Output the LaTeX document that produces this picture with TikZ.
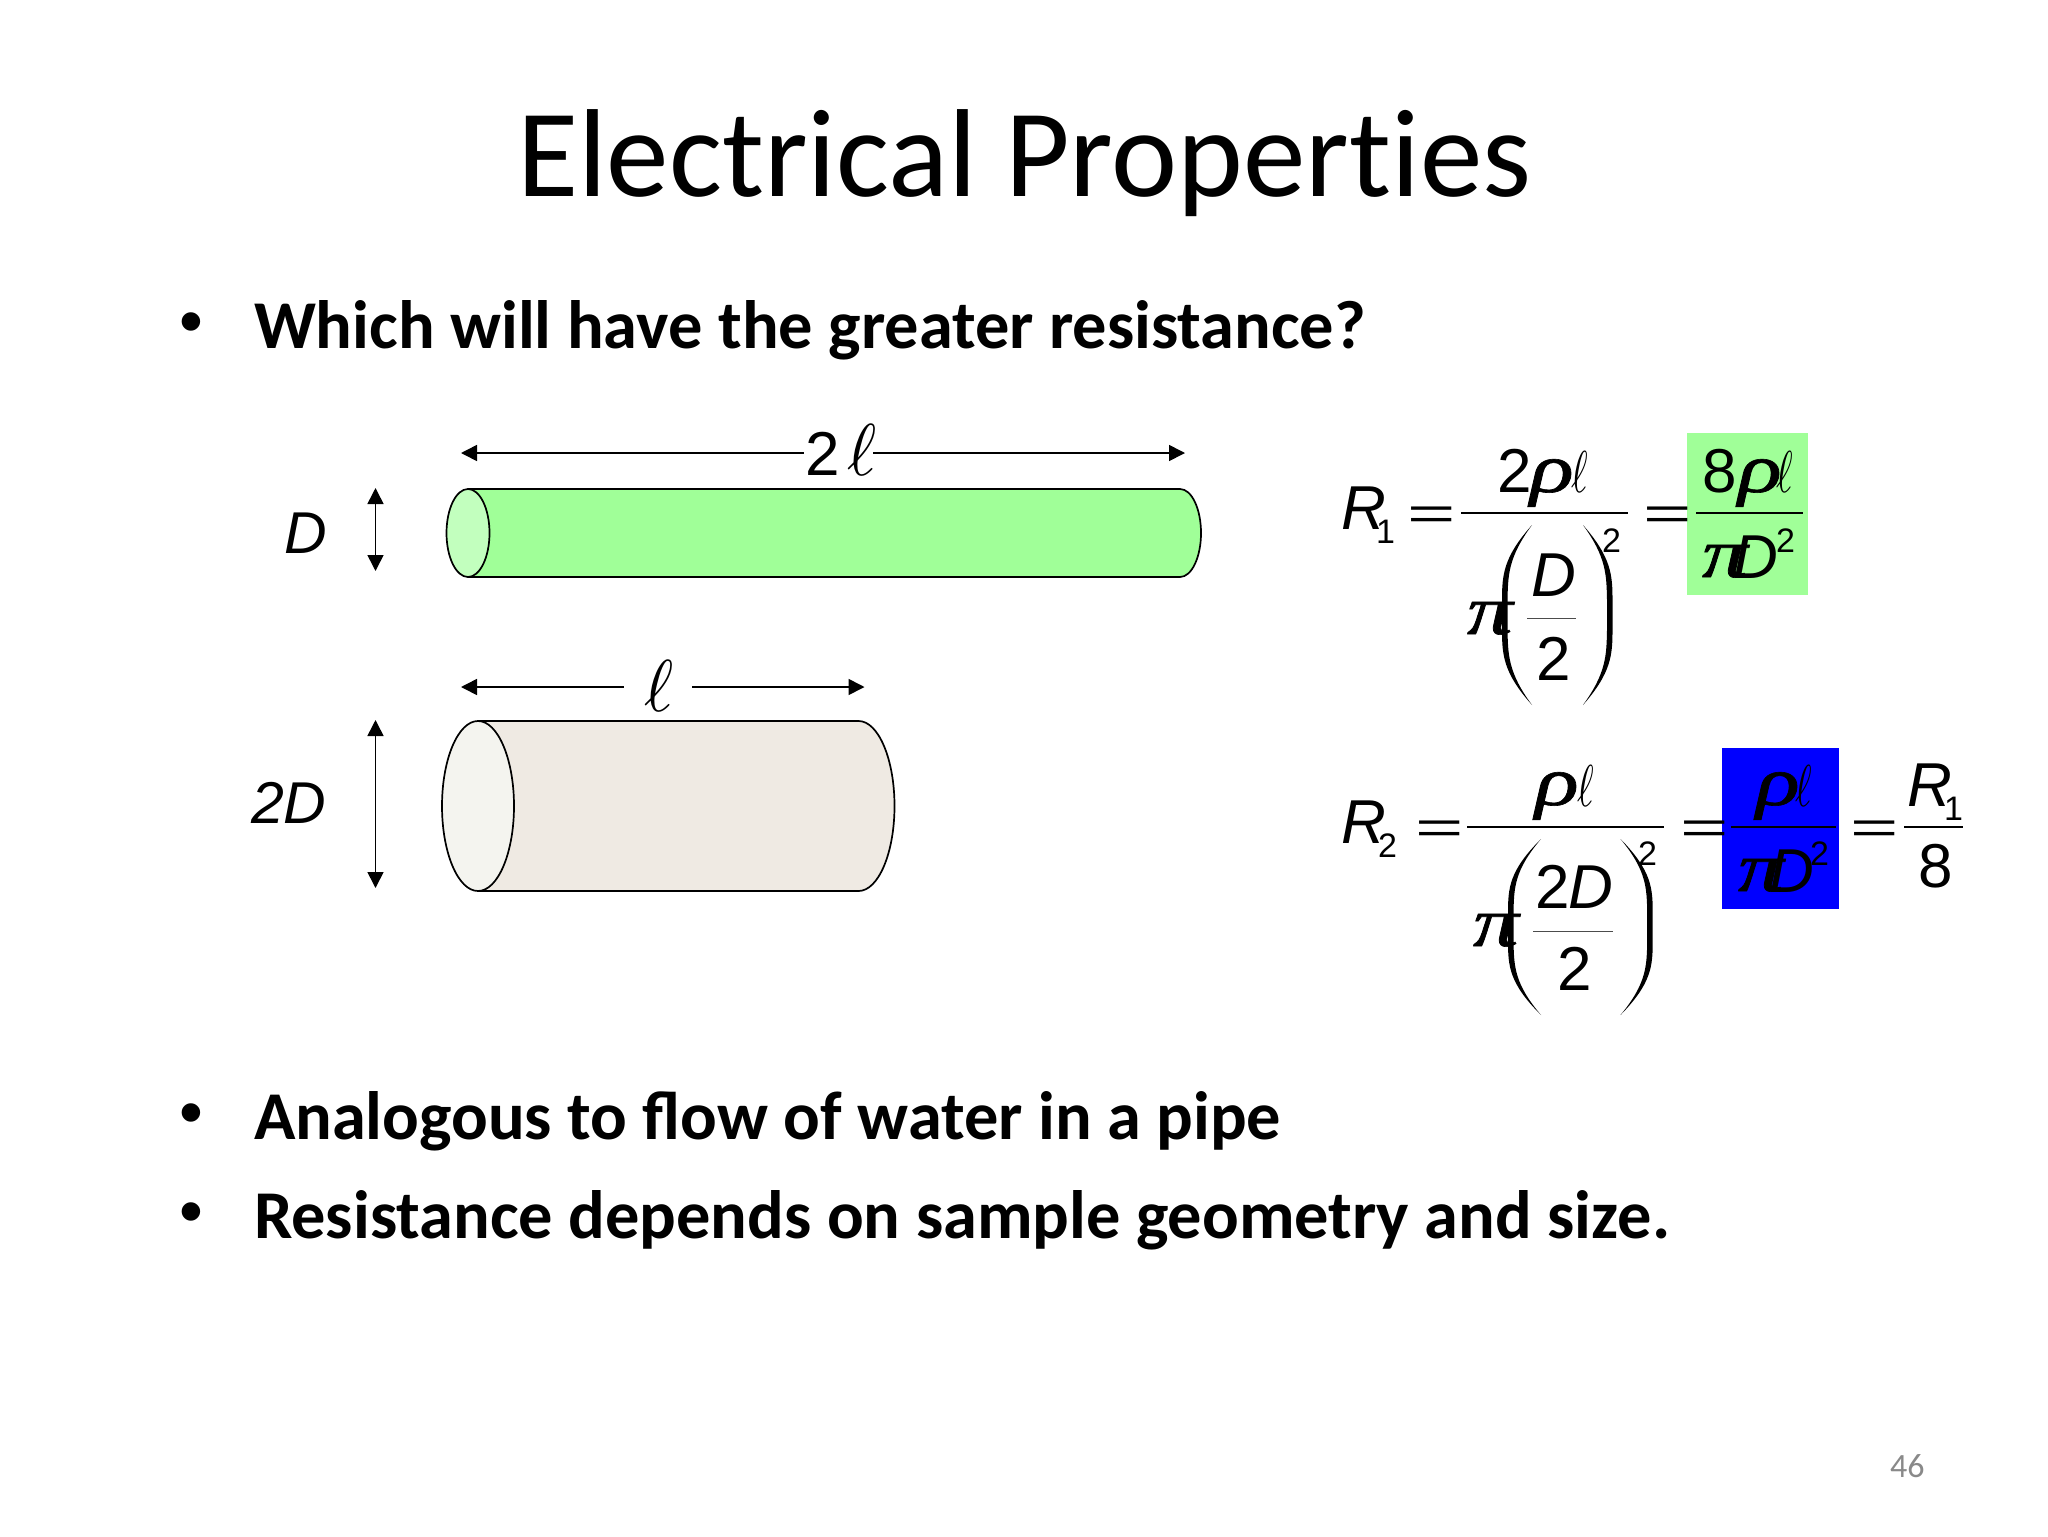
\documentclass[tikz,border=0pt]{standalone}
\usepackage{fontspec}
\usetikzlibrary{arrows.meta}
\setmainfont{Carlito}
\newfontfamily\eqf{Liberation Sans}
\newfontfamily\grk{Liberation Serif}[ItalicFeatures={FakeBold=0.9}]
\newcommand{\fsz}[1]{\fontsize{#1}{#1}\selectfont}
\newcommand{\bigell}[2][1]{\scalebox{#1}[#2]{$\ell$}}
\newcommand{\eqsign}{\scalebox{1.8}[1]{\eqf\fsz{23}=}}
\newcommand{\wide}[1]{\scalebox{1.3}[1]{#1}}
\newcommand{\LP}[4]{\fill[black] ({#2},{#3}) .. controls ({#1+1},{#3+0.18*(#4-#3)}) and ({#1},{#3+0.28*(#4-#3)}) .. ({#1},{#3+0.42*(#4-#3)}) -- ({#1},{#3+0.58*(#4-#3)}) .. controls ({#1},{#3+0.72*(#4-#3)}) and ({#1+1},{#3+0.82*(#4-#3)}) .. ({#2},{#4}) .. controls ({#1+6},{#3+0.82*(#4-#3)}) and ({#1+6},{#3+0.72*(#4-#3)}) .. ({#1+5.5},{#3+0.58*(#4-#3)}) -- ({#1+5.5},{#3+0.42*(#4-#3)}) .. controls ({#1+6},{#3+0.28*(#4-#3)}) and ({#1+6},{#3+0.18*(#4-#3)}) .. cycle;}
\newcommand{\RP}[4]{\fill[black] ({#2},{#3}) .. controls ({#1-1},{#3+0.18*(#4-#3)}) and ({#1},{#3+0.28*(#4-#3)}) .. ({#1},{#3+0.42*(#4-#3)}) -- ({#1},{#3+0.58*(#4-#3)}) .. controls ({#1},{#3+0.72*(#4-#3)}) and ({#1-1},{#3+0.82*(#4-#3)}) .. ({#2},{#4}) .. controls ({#1-6},{#3+0.82*(#4-#3)}) and ({#1-6},{#3+0.72*(#4-#3)}) .. ({#1-5.5},{#3+0.58*(#4-#3)}) -- ({#1-5.5},{#3+0.42*(#4-#3)}) .. controls ({#1-6},{#3+0.28*(#4-#3)}) and ({#1-6},{#3+0.18*(#4-#3)}) .. cycle;}
\definecolor{greenbody}{HTML}{A0FF98}
\definecolor{greenend}{HTML}{C2FFBE}
\definecolor{tanbody}{HTML}{EFEAE3}
\definecolor{tanend}{HTML}{F4F4EF}
\definecolor{pagenum}{HTML}{898989}
\tikzset{
  txt/.style={inner sep=0pt,outer sep=0pt,anchor=base west},
  title/.style={txt,font=\fsz{62.6}},
  bul/.style={txt,font=\fsz{34.2}\bfseries},
  dot/.style={txt,font=\eqf\fsz{34}},
  big/.style={txt,font=\eqf\fsz{31}},
  bigit/.style={txt,font=\eqf\itshape\fsz{31}},
  sm/.style={txt,font=\eqf\fsz{17}},
  gr/.style={txt,font=\grk\itshape\fsz{35}},
  lab/.style={txt,font=\eqf\itshape\fsz{29.5}},
  cyl/.style={draw=black,line width=0.85pt,line join=round},
  dim/.style={line width=0.8pt,{Triangle[length=8pt,width=8pt]}-{Triangle[length=8pt,width=8pt]}},
  frac/.style={line width=0.75pt,draw=black},
  subfrac/.style={line width=0.45pt,draw=black!70}
}
\begin{document}
\begin{tikzpicture}[x=0.5pt,y=-0.5pt]
\useasboundingbox (0,0) rectangle (2048,1536);
\node[title] (ttl) at (517,196) {Electrical Propert\kern0pt ies};
\node[dot] (b1d) at (179,344) {•};
\node[bul] (b1) at (254,348) {Which will have the greater resistance?};
\node[dot] (b2d) at (179,1135) {•};
\node[bul] (b2) at (254,1139) {Analogous to flow of water in a pipe};
\node[dot] (b3d) at (179,1234) {•};
\node[bul] (b3) at (254,1238) {Resistance depends on sample geometry and size.};
\node[txt,font=\fsz{17},text=pagenum] (pg) at (1890,1477) {46};
% green cylinder
\path[cyl,fill=greenbody] (468,489) -- (1180,489) arc[start angle=-90,end angle=90,x radius=21,y radius=44] -- (468,577) -- cycle;
\path[cyl,fill=greenend] (468,533) ellipse[x radius=21.5,y radius=44];
% tan cylinder
\path[cyl,fill=tanbody] (478,721) -- (858.5,721) arc[start angle=-90,end angle=90,x radius=36,y radius=85] -- (478,891) -- cycle;
\path[cyl,fill=tanend] (478,806) ellipse[x radius=36,y radius=85];
% dimensions
\coordinate (a1) at (461,453); \coordinate (a2) at (804,453);
\coordinate (a3) at (873,453); \coordinate (a4) at (1185,453);
\draw[line width=0.8pt,{Triangle[length=8pt,width=8pt]}-] (a1) -- (a2);
\draw[line width=0.8pt,-{Triangle[length=8pt,width=8pt]}] (a3) -- (a4);
\node[big] (two) at (805,475) {2};
\node[txt] (ell1) at (847,475) {\bigell[3.5]{3.67}};
\coordinate (c1) at (461,687); \coordinate (c2) at (624,687);
\coordinate (c3) at (692,687); \coordinate (c4) at (864.5,687);
\draw[line width=0.8pt,{Triangle[length=8pt,width=8pt]}-] (c1) -- (c2);
\draw[line width=0.8pt,-{Triangle[length=8pt,width=8pt]}] (c3) -- (c4);
\node[txt] (ell2) at (644,711) {\bigell[3.5]{3.67}};
\coordinate (d1) at (375.5,488); \coordinate (d2) at (375.5,571);
\draw[dim] (d1) -- (d2);
\node[lab] (labD) at (284,553) {D};
\coordinate (e1) at (375.5,720); \coordinate (e2) at (375.5,888);
\draw[dim] (e1) -- (e2);
\node[lab] (lab2D) at (251,823) {2D};
% highlight boxes
\fill[greenbody] (1687,433) rectangle (1808,595);
\fill[blue] (1722,748) rectangle (1839,909);
% R1 equation
\node[bigit] (r1) at (1341,529) {R};
\node[sm] (r1s) at (1376,543) {1};
\node[txt] (eq1a) at (1407,529) {\eqsign};
\draw[frac] (1461,513) -- (1628,513);
\node[big] (n1a) at (1497,492) {2};
\node[gr] (n1b) at (1530,492) {\wide{ρ}};
\node[txt] (n1c) at (1571,492) {\bigell[2]{2.95}};
\node[gr] (p1) at (1467,634) {\wide{π}};
\LP{1502}{1532}{525}{705}
\RP{1612.5}{1583}{525}{705}
\node[sm] (s1) at (1602,552) {2};
\node[bigit] (d1t) at (1531,596) {D};
\draw[subfrac] (1527,618) -- (1576,618);
\node[big] (d1b) at (1536,680) {2};
\node[txt] (eq1b) at (1643,529) {\eqsign};
\node[big] (g1a) at (1702,492) {8};
\node[gr] (g1b) at (1738,492) {\wide{ρ}};
\node[txt] (g1c) at (1776,492) {\bigell[2]{2.95}};
\draw[frac] (1696,513) -- (1803,513);
\node[gr] (g1d) at (1702,577) {\wide{π}};
\node[bigit] (g1e) at (1733,578) {D};
\node[sm] (g1f) at (1776,552) {2};
% R2 equation
\node[bigit] (r2) at (1341,843) {R};
\node[sm] (r2s) at (1378,857) {2};
\node[txt] (eq2a) at (1415,843) {\eqsign};
\draw[frac] (1467,827) -- (1664,827);
\node[gr] (n2a) at (1535,805) {\wide{ρ}};
\node[txt] (n2b) at (1577,806) {\bigell[2]{2.95}};
\node[gr] (p2) at (1473,946) {\wide{π}};
\LP{1508}{1541}{839}{1015}
\RP{1652.7}{1620.5}{839}{1015}
\node[sm] (s2) at (1638,865) {2};
\node[big] (d2t) at (1535,908) {2};
\node[bigit] (d2u) at (1568,908) {D};
\draw[subfrac] (1533,931) -- (1612.5,931);
\node[big] (d2b) at (1557,990) {2};
\node[txt] (eq2b) at (1680,843) {\eqsign};
\node[gr] (b2a) at (1756,805) {\wide{ρ}};
\node[txt] (b2b) at (1795,806) {\bigell[2]{2.95}};
\draw[frac] (1731,827) -- (1836,827);
\node[gr] (b2c) at (1738,891) {\wide{π}};
\node[bigit] (b2e) at (1769,892) {D};
\node[sm] (b2f) at (1810,865) {2};
\node[txt] (eq2c) at (1850,843) {\eqsign};
\draw[frac] (1904,827) -- (1963,827);
\node[bigit] (r3) at (1907,806) {R};
\node[sm] (r3s) at (1944,820) {1};
\node[big] (e8) at (1918,887) {8};
\end{tikzpicture}
\end{document}
